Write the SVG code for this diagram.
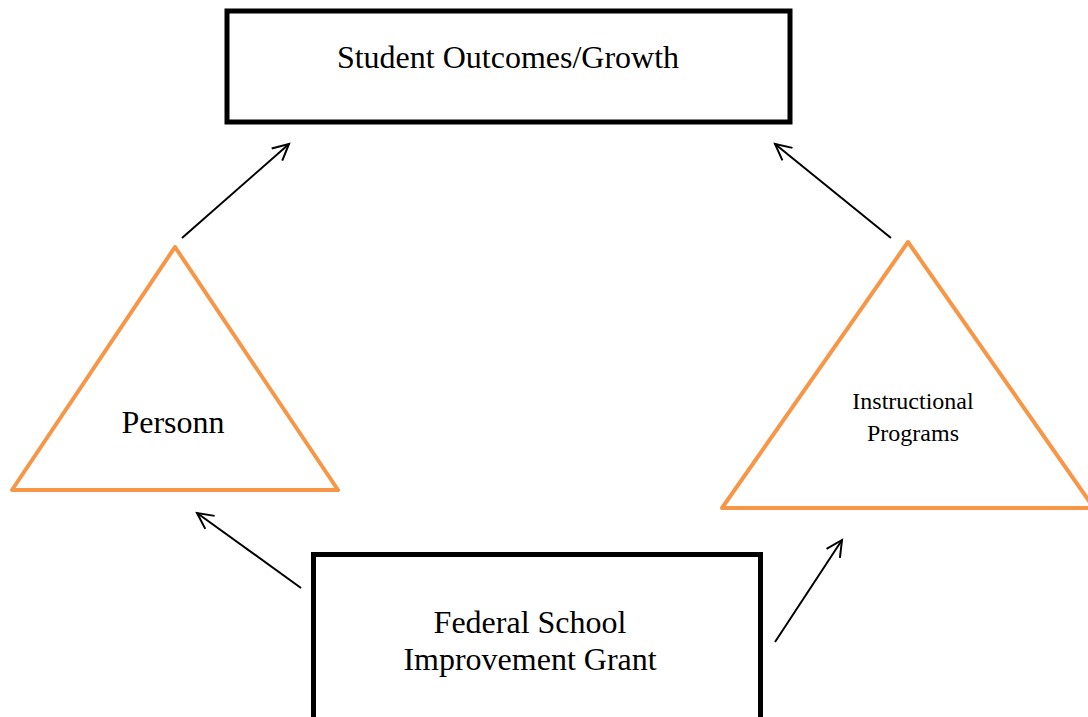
<svg xmlns="http://www.w3.org/2000/svg" width="1088" height="717" viewBox="0 0 1088 717">
  <style>
    .box { fill: #ffffff; stroke: #000000; stroke-width: 5; }
    .tri { fill: none; stroke: #F79646; stroke-width: 4; stroke-linejoin: round; }
    .link { fill: none; stroke: #000000; stroke-width: 2; marker-end: url(#openArrow); }
    .lbl { font-family: "Liberation Serif", "Times New Roman", serif; fill: #000000; text-anchor: middle; }
    .big { font-size: 32px; }
    .small { font-size: 24px; }
  </style>
  <defs>
    <marker id="openArrow" markerUnits="userSpaceOnUse" markerWidth="24" markerHeight="24" refX="18" refY="9" orient="auto">
      <path d="M2,1 L18,9 L2,17" fill="none" stroke="#000000" stroke-width="2"/>
    </marker>
  </defs>

  <g id="node-outcomes">
    <rect class="box" x="227" y="11" width="563" height="111"/>
    <text class="lbl big" x="508" y="68">Student Outcomes/Growth</text>
  </g>

  <g id="node-personnel">
    <polygon class="tri" points="175,247 338,490 12,490"/>
    <text class="lbl big" x="173" y="433">Personn</text>
  </g>

  <g id="node-programs">
    <polygon class="tri" points="908,242 1094,508 722,508"/>
    <text class="lbl small" x="913" y="409">Instructional</text>
    <text class="lbl small" x="913" y="441">Programs</text>
  </g>

  <g id="node-grant">
    <rect class="box" x="313.5" y="554.5" width="447" height="175"/>
    <text class="lbl big" x="530" y="633">Federal School</text>
    <text class="lbl big" x="530" y="670">Improvement Grant</text>
  </g>

  <g id="connectors">
    <line class="link" x1="182" y1="238" x2="289" y2="144"/>
    <line class="link" x1="891" y1="238" x2="775" y2="144"/>
    <line class="link" x1="301" y1="588" x2="197" y2="513"/>
    <line class="link" x1="775" y1="642" x2="842" y2="540"/>
  </g>
</svg>
